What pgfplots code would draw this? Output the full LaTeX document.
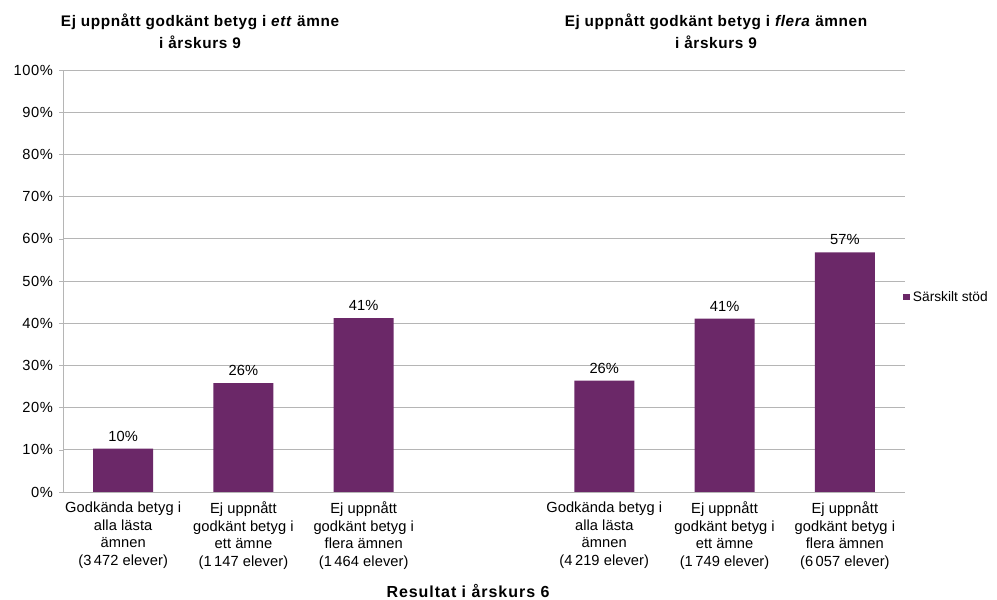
\documentclass[border=0pt]{standalone}
\usepackage{pgfplots}
\pgfplotsset{compat=1.18}
\usepackage{fontspec}
\setmainfont{Liberation Sans}
\newfontfamily\tickfont[LetterSpace=0.5]{Liberation Sans}
\newfontfamily\ytickfont[LetterSpace=4]{Liberation Sans}
\newfontfamily\titlefont[LetterSpace=4]{Liberation Sans}
\newfontfamily\labfont[LetterSpace=6]{Liberation Sans}
\definecolor{barc}{HTML}{6B2868}
\definecolor{gridc}{HTML}{B5B5B5}
\begin{document}
\begin{tikzpicture}
\path (0pt,0pt) rectangle (747.75pt,450pt);
\begin{axis}[
  at={(47.25pt,81pt)}, anchor=south west,
  scale only axis, width=631.5pt, height=316.5pt,
  xmin=-0.5, xmax=6.5, ymin=0, ymax=100,
  ybar, bar width=45pt,
  ytick={0,10,...,100},
  yticklabel={\pgfmathprintnumber{\tick}\%},
  /pgf/number format/assume math mode=true,
  xtick={0,1,2,4,5,6},
  xticklabels={
    {Godkända betyg i\\alla lästa\\ämnen\\(3\,472 elever)},
    {Ej uppnått\\godkänt betyg i\\ett ämne\\(1\,147 elever)},
    {Ej uppnått\\godkänt betyg i\\flera ämnen\\(1\,464 elever)},
    {Godkända betyg i\\alla lästa\\ämnen\\(4\,219 elever)},
    {Ej uppnått\\godkänt betyg i\\ett ämne\\(1\,749 elever)},
    {Ej uppnått\\godkänt betyg i\\flera ämnen\\(6\,057 elever)}},
  xticklabel style={align=center, font=\tickfont\fontsize{11}{13.1}\selectfont, yshift=-1pt},
  yticklabel style={font=\ytickfont\fontsize{11}{12}\selectfont, xshift=-1pt},
  x tick style={draw=none},
  y tick style={gridc},
  tick align=outside, major tick length=3pt,
  ymajorgrids, grid style={gridc, line width=0.6pt},
  axis line style={gridc, line width=0.6pt},
  axis x line*=bottom, axis y line*=left,
  nodes near coords={\pgfmathprintnumber[fixed,precision=0]{\pgfplotspointmeta}\%},
  nodes near coords style={font=\tickfont\fontsize{11}{12}\selectfont, text=black, yshift=2pt},
  legend style={at={(0.993,0.462)}, anchor=west, draw=none, fill=none,
    font=\fontsize{10.3}{12}\selectfont},
  legend image code/.code={\fill[barc] (0pt,-2.6pt) rectangle (5.2pt,2.6pt);},
]
\addplot[fill=barc, draw=none] coordinates {(0,10.3) (1,25.8) (2,41.2) (4,26.4) (5,41.1) (6,56.8)};
\addlegendentry{Särskilt stöd}
\end{axis}
\node[font=\titlefont\bfseries\fontsize{11.5}{16.5}\selectfont, align=center] at (150pt,426.75pt)
  {Ej uppnått godkänt betyg i \textit{ett} ämne\\i årskurs 9};
\node[font=\titlefont\bfseries\fontsize{11.5}{16.5}\selectfont, align=center] at (537pt,426.75pt)
  {Ej uppnått godkänt betyg i \textit{flera} ämnen\\i årskurs 9};
\node[font=\labfont\bfseries\fontsize{12}{12}\selectfont] at (351pt,6.5pt) {Resultat i årskurs 6};
\pgfresetboundingbox
\path (0pt,0pt) rectangle (747.75pt,450pt);
\end{tikzpicture}
\end{document}
